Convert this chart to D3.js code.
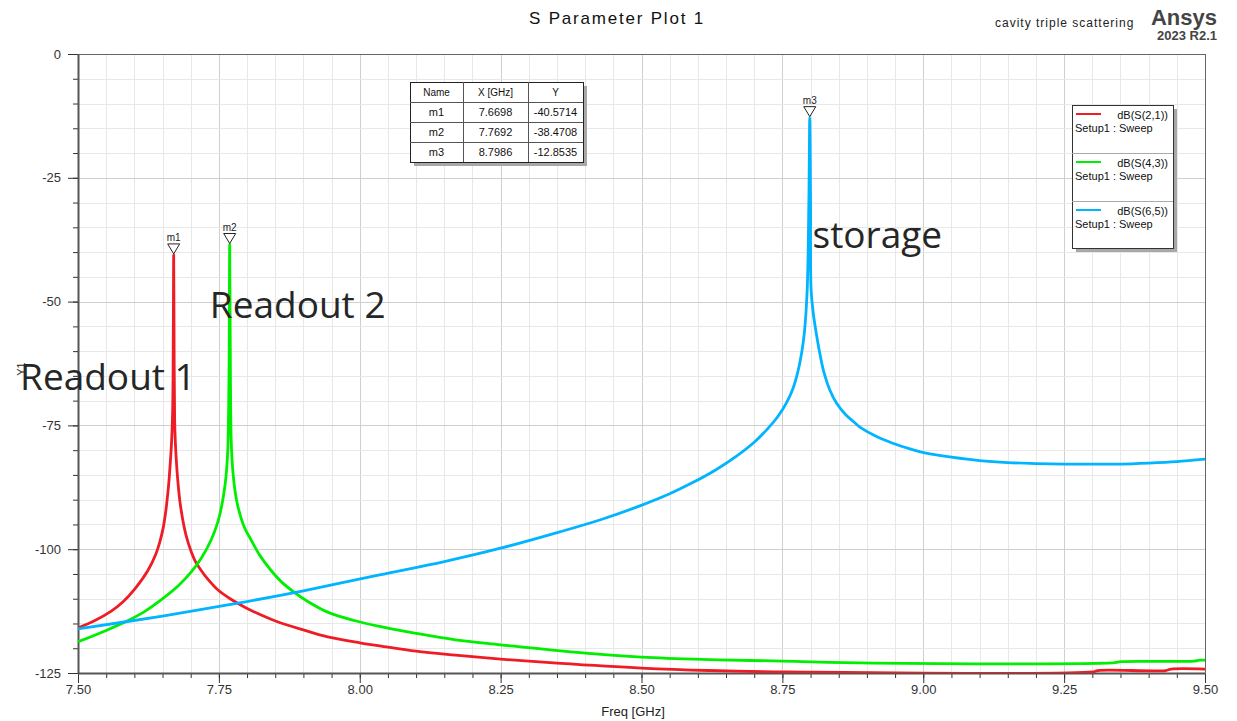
<!DOCTYPE html>
<html><head><meta charset="utf-8">
<script src="https://cdn.jsdelivr.net/npm/d3@7"></script>
<style>
html,body{margin:0;padding:0;background:#fff;}
svg{display:block;font-family:Arial,"Liberation Sans",sans-serif;}
</style></head>
<body><svg id="c" width="1237" height="721"></svg>
<script>
// ---- data ----
const s21Freq = [7.50,7.53,7.559,7.58,7.601,7.624,7.638,7.645,7.651,7.655,7.658,7.661,7.663,7.666,7.668,7.6692,7.6698,7.6704,7.6715,7.673,7.675,7.677,7.681,7.686,7.692,7.700,7.708,7.718,7.73,7.748,7.77,7.796,7.825,7.855,7.90,7.943,8.00,8.035,8.10,8.17,8.25,8.35,8.50,8.62,8.76,9.30,9.31,9.43,9.44,9.50];
const s21dB   = [-115.9,-114.4,-112.5,-110.6,-108.0,-104.3,-101.0,-98.6,-95.8,-93.0,-90.2,-86.8,-83.8,-78.5,-72.0,-55.0,-40.5714,-55.0,-74.0,-79.0,-83.0,-86.0,-90.5,-94.1,-97.3,-100.2,-102.4,-104.2,-106.0,-108.2,-110.0,-111.7,-113.3,-114.7,-116.3,-117.7,-118.9,-119.5,-120.6,-121.4,-122.2,-123.0,-124.0,-124.5,-124.8,-124.8,-124.5,-124.5,-124.2,-124.2];
const s43Freq = [7.50,7.55,7.589,7.618,7.648,7.678,7.701,7.719,7.736,7.745,7.751,7.757,7.761,7.764,7.766,7.768,7.7692,7.7705,7.772,7.775,7.779,7.784,7.795,7.807,7.823,7.842,7.862,7.885,7.91,7.943,7.99,8.035,8.10,8.17,8.25,8.37,8.50,8.62,8.75,8.91,9.34,9.35,9.48,9.49,9.50];
const s43dB   = [-118.7,-116.4,-114.4,-112.6,-110.2,-107.4,-104.6,-101.8,-98.2,-95.6,-93.3,-90.0,-87.0,-83.5,-79.5,-65.0,-38.4708,-65.0,-78.5,-84.5,-88.5,-91.5,-95.5,-98.1,-101.3,-104.2,-106.7,-108.8,-110.7,-112.7,-114.4,-115.6,-117.0,-118.3,-119.3,-120.7,-121.8,-122.3,-122.6,-123.0,-122.9,-122.7,-122.6,-122.4,-122.4];
const s65Freq = [7.50,7.65,7.784,7.90,8.035,8.15,8.25,8.355,8.43,8.496,8.55,8.59,8.63,8.668,8.70,8.722,8.742,8.757,8.768,8.777,8.784,8.789,8.794,8.797,8.7986,8.800,8.801,8.805,8.810,8.817,8.824,8.834,8.846,8.862,8.876,8.887,8.92,8.946,8.975,9.005,9.05,9.10,9.15,9.20,9.25,9.30,9.35,9.40,9.45,9.50];
const s65dB   = [-116.1,-113.5,-110.9,-108.4,-105.2,-102.5,-99.8,-96.5,-93.95,-91.3,-88.8,-86.6,-84.1,-81.25,-78.4,-75.9,-73.2,-70.5,-67.8,-64.4,-60.5,-56.3,-47.7,-30.0,-12.8535,-30.0,-47.7,-52.5,-56.3,-60.8,-64.4,-67.8,-70.5,-72.8,-74.2,-75.3,-77.4,-78.6,-79.7,-80.6,-81.4,-82.1,-82.5,-82.7,-82.8,-82.8,-82.8,-82.6,-82.3,-81.8];
const seriesNames = ["dB(S(2,1))","dB(S(4,3))","dB(S(6,5))"];
const seriesColors = ["#ee1c25","#00ee00","#00b4ff"];
const markerNames = ["m1","m2","m3"];
const markerX = [7.6698,7.7692,8.7986];
const markerY = [-40.5714,-38.4708,-12.8535];
const xTicks = [7.50,7.75,8.00,8.25,8.50,8.75,9.00,9.25,9.50];
const yTicks = [0,-25,-50,-75,-100,-125];
const annotations = [
  {text:"Readout 1", f:7.3972, db:-67.85},
  {text:"Readout 2", f:7.7340, db:-53.3},
  {text:"storage",   f:8.8035, db:-39.2}
];

// ---- layout ----
const svg = d3.select("#c");
const L=78, R=1205, T=54, B=673;
const x = d3.scaleLinear().domain([7.5,9.5]).range([L,R]);
const y = d3.scaleLinear().domain([-125,0]).range([B,T]);

// grid
const g = svg.append("g");
const minorX = d3.range(0,41).map(i=>7.5+i*0.05);
const minorY = d3.range(0,26).map(i=>-125+i*5);
g.selectAll(".gx").data(minorX).enter().append("line")
  .attr("x1",d=>Math.round(x(d))+0.5).attr("x2",d=>Math.round(x(d))+0.5).attr("y1",T).attr("y2",B)
  .attr("stroke",(d,i)=>i%5===0?"#cfcfcf":"#e8e8e8").attr("stroke-width",1);
g.selectAll(".gy").data(minorY).enter().append("line")
  .attr("y1",d=>Math.round(y(d))+0.5).attr("y2",d=>Math.round(y(d))+0.5).attr("x1",L).attr("x2",R)
  .attr("stroke",(d,i)=>i%5===0?"#cfcfcf":"#e8e8e8").attr("stroke-width",1);

// axes with d3
const xAxisMinor = d3.axisBottom(x).tickValues(minorX).tickSize(5).tickFormat("");
const xAxisMajor = d3.axisBottom(x).tickValues(xTicks).tickSize(10).tickFormat(d3.format(".2f"));
const yAxisMinor = d3.axisLeft(y).tickValues(minorY).tickSize(5).tickFormat("");
const yAxisMajor = d3.axisLeft(y).tickValues(yTicks).tickSize(10).tickFormat(d=>d);
function styleAxis(sel){
  sel.select(".domain").remove();
  sel.selectAll("line").attr("stroke","#333");
  sel.selectAll("text").attr("fill","#333").attr("font-size",13).attr("font-family","Arial, 'Liberation Sans', sans-serif");
}
svg.append("g").attr("transform",`translate(0,${B})`).call(xAxisMinor).call(styleAxis);
svg.append("g").attr("transform",`translate(0,${B})`).call(xAxisMajor).call(styleAxis)
  .selectAll("text").attr("y",12);
svg.append("g").attr("transform",`translate(${L},0)`).call(yAxisMinor).call(styleAxis);
svg.append("g").attr("transform",`translate(${L},0)`).call(yAxisMajor).call(styleAxis)
  .selectAll("text").attr("x",-17);

// frame
svg.append("rect").attr("x",L+0.5).attr("y",T+0.5).attr("width",R-L).attr("height",B-T)
  .attr("fill","none").attr("stroke","#666").attr("stroke-width",1);
svg.append("line").attr("x1",L+0.5).attr("x2",L+0.5).attr("y1",T).attr("y2",B).attr("stroke","#555").attr("stroke-width",2);
svg.append("line").attr("x1",L).attr("x2",R).attr("y1",B+0.5).attr("y2",B+0.5).attr("stroke","#555").attr("stroke-width",2);

// curves
const freqs=[s21Freq,s43Freq,s65Freq], dbs=[s21dB,s43dB,s65dB];
const line = d3.line().x(d=>x(d[0])).y(d=>y(d[1])).curve(d3.curveCatmullRom.alpha(0.5));
svg.append("clipPath").attr("id","pc").append("rect").attr("x",L).attr("y",T).attr("width",R-L).attr("height",B-T);
const cg = svg.append("g").attr("clip-path","url(#pc)");
freqs.forEach((fr,i)=>{
  cg.append("path").datum(fr.map((f,j)=>[f,dbs[i][j]]))
    .attr("d",line).attr("fill","none").attr("stroke",seriesColors[i]).attr("stroke-width",2.8)
    .attr("stroke-linejoin","round");
});

// markers
markerNames.forEach((m,i)=>{
  const px=x(markerX[i]), py=y(markerY[i]);
  svg.append("path").attr("d",`M${px-6},${py-11}L${px+6},${py-11}L${px},${py-1}Z`)
    .attr("fill","#fff").attr("stroke","#222").attr("stroke-width",1);
  svg.append("text").attr("x",px).attr("y",py-14).attr("text-anchor","middle")
    .attr("font-size",10).attr("fill","#222").text(m);
});

// marker table
const tx=410, ty=82, colW=[53,65,55], rowH=20;
const tw=d3.sum(colW), th=rowH*4;
svg.append("rect").attr("x",tx+4).attr("y",ty+4).attr("width",tw).attr("height",th).attr("fill","#a8a8a8");
svg.append("rect").attr("x",tx+0.5).attr("y",ty+0.5).attr("width",tw).attr("height",th).attr("fill","#fff").attr("stroke","#222");
const cols=[0,colW[0],colW[0]+colW[1],tw];
[1,2].forEach(c=>svg.append("line").attr("x1",tx+cols[c]+0.5).attr("x2",tx+cols[c]+0.5).attr("y1",ty).attr("y2",ty+th).attr("stroke","#555"));
[1,2,3].forEach(r=>svg.append("line").attr("y1",ty+r*rowH+0.5).attr("y2",ty+r*rowH+0.5).attr("x1",tx).attr("x2",tx+tw).attr("stroke","#555"));
const header=["Name","X [GHz]","Y"];
const rows=[header].concat(markerNames.map((m,i)=>[m,markerX[i].toFixed(4),markerY[i].toFixed(4)]));
rows.forEach((r,ri)=>r.forEach((c,ci)=>{
  svg.append("text").attr("x",tx+(cols[ci]+cols[ci+1])/2).attr("y",ty+ri*rowH+14)
    .attr("text-anchor","middle").attr("font-size",ri===0?10:11).attr("fill","#111").text(c);
}));

// legend
const lx=1072, ly=105, lw=101, lh=143;
svg.append("rect").attr("x",lx+4).attr("y",ly+4).attr("width",lw).attr("height",lh).attr("fill","#a8a8a8");
svg.append("rect").attr("x",lx+0.5).attr("y",ly+0.5).attr("width",lw).attr("height",lh).attr("fill","#fff").attr("stroke","#333");
seriesNames.forEach((n,i)=>{
  const oy=ly+i*48;
  if(i>0) svg.append("line").attr("x1",lx).attr("x2",lx+lw).attr("y1",oy+0.5).attr("y2",oy+0.5).attr("stroke","#aaa");
  svg.append("line").attr("x1",lx+4).attr("x2",lx+29).attr("y1",oy+9).attr("y2",oy+9).attr("stroke",seriesColors[i]).attr("stroke-width",2);
  svg.append("text").attr("x",lx+96).attr("y",oy+14).attr("text-anchor","end").attr("font-size",11).attr("fill","#111").text(n);
  svg.append("text").attr("x",lx+3).attr("y",oy+27).attr("font-size",11).attr("fill","#111").text("Setup1 : Sweep");
});

// titles
svg.append("text").attr("x",617).attr("y",24).attr("text-anchor","middle").attr("font-size",17).attr("letter-spacing",1.8).attr("fill","#111").text("S Parameter Plot 1");
svg.append("text").attr("x",995).attr("y",27).attr("font-size",12).attr("letter-spacing",1.0).attr("fill","#222").text("cavity  triple  scattering");
svg.append("text").attr("x",1217).attr("y",25).attr("text-anchor","end").attr("font-size",22).attr("font-weight","bold").attr("fill","#444").text("Ansys");
svg.append("text").attr("x",1217).attr("y",40).attr("text-anchor","end").attr("font-size",13).attr("font-weight","bold").attr("fill","#444").text("2023 R2.1");
svg.append("text").attr("x",633).attr("y",716).attr("text-anchor","middle").attr("font-size",13).attr("fill","#222").text("Freq [GHz]");
svg.append("text").attr("transform","translate(25,369) rotate(-90)").attr("text-anchor","middle").attr("font-size",11).attr("fill","#222").text("Y1");

// annotations
annotations.forEach(a=>{
  svg.append("text").attr("x",x(a.f)).attr("y",y(a.db)).attr("font-family","'Open Sans','Noto Sans',sans-serif")
    .attr("font-size",37).attr("fill","#262626").text(a.text);
});
</script></body></html>
